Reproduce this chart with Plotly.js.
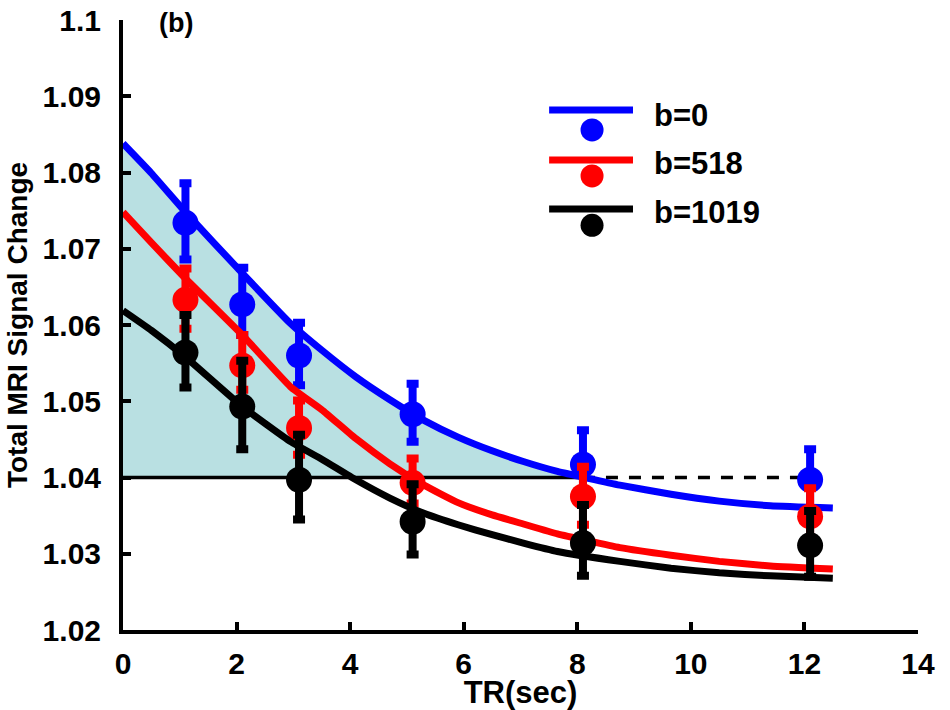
<!DOCTYPE html>
<html>
<head>
<meta charset="utf-8">
<script src="https://cdn.plot.ly/plotly-3.0.1.min.js"></script>
<style>
  html, body { margin: 0; padding: 0; background: #ffffff; }
  #chart { width: 950px; height: 710px; }
</style>
</head>
<body>
<div id="chart"></div>
<script>
// ---------- data ----------
const seriesNames = ["b=0", "b=518", "b=1019"];
const seriesColors = ["#0000ff", "#ff0000", "#000000"];

// measured points (TR in sec, slightly offset as in the figure)
const trPoints = [1.1, 2.1, 3.1, 5.1, 8.1, 12.1];

const b0Values     = [1.0734, 1.0627, 1.0560, 1.0483, 1.0417, 1.0397];
const b0ErrPlus    = [0.0052, 0.0048, 0.0043, 0.0040, 0.0045, 0.0040];
const b0ErrMinus   = [0.0048, 0.0040, 0.0039, 0.0036, 0.0045, 0.0040];

const b518Values   = [1.0633, 1.0547, 1.0465, 1.0393, 1.0375, 1.0349];
const b518ErrPlus  = [0.0041, 0.0040, 0.0036, 0.0032, 0.0039, 0.0037];
const b518ErrMinus = [0.0038, 0.0032, 0.0035, 0.0027, 0.0037, 0.0037];

const b1019Values   = [1.0564, 1.0493, 1.0397, 1.0342, 1.0314, 1.0311];
const b1019ErrPlus  = [0.0049, 0.0060, 0.0059, 0.0049, 0.0050, 0.0045];
const b1019ErrMinus = [0.0046, 0.0056, 0.0052, 0.0043, 0.0043, 0.0041];

// fitted curves
const curveTR    = [0, 0.5, 1.1, 2.1, 2.95, 3.5, 4.1, 4.7, 5.3, 5.9, 6.5, 7.05, 7.65, 8.75, 9.65, 10.5, 11.4, 12.5];
const b0Curve    = [1.0838, 1.0799, 1.0748, 1.0668, 1.0602, 1.0567, 1.0532, 1.0502, 1.0475, 1.0453, 1.0435, 1.0421, 1.0408, 1.0390, 1.0378, 1.0369, 1.0363, 1.0360];
const b518Curve  = [1.0748, 1.0708, 1.0661, 1.0587, 1.0519, 1.0489, 1.0451, 1.0418, 1.0390, 1.0367, 1.0351, 1.0339, 1.0326, 1.0308, 1.0298, 1.0290, 1.0284, 1.0280];
const b1019Curve = [1.0619, 1.0593, 1.0558, 1.0493, 1.0447, 1.0424, 1.0397, 1.0373, 1.0353, 1.0338, 1.0325, 1.0314, 1.0303, 1.0290, 1.0281, 1.0275, 1.0271, 1.0268];

// reference level line
const refLevel = 1.04;
const refSolidX = [0, 8.1];
const refDashX = [8.1, 12.1];

// axis ticks
const xTickVals = [0, 2, 4, 6, 8, 10, 12, 14];
const xTickText = ["0", "2", "4", "6", "8", "10", "12", "14"];
const yTickVals = [1.02, 1.03, 1.04, 1.05, 1.06, 1.07, 1.08, 1.09, 1.1];
const yTickText = ["1.02", "1.03", "1.04", "1.05", "1.06", "1.07", "1.08", "1.09", "1.1"];

const panelLabel = "(b)";
const xTitle = "TR(sec)";
const yTitle = "Total MRI Signal Change";

// ---------- build traces ----------
const FONT = "Liberation Sans, Arial, Helvetica, sans-serif";

// shaded area: b=0 curve above the reference level
const fillX = [], fillY = [];
for (let i = 0; i < curveTR.length; i++) {
  if (b0Curve[i] >= refLevel) {
    fillX.push(curveTR[i]); fillY.push(b0Curve[i]);
  } else {
    const x0 = curveTR[i - 1], y0 = b0Curve[i - 1], x1 = curveTR[i], y1 = b0Curve[i];
    fillX.push(x0 + (refLevel - y0) * (x1 - x0) / (y1 - y0));
    fillY.push(refLevel);
    break;
  }
}

const traces = [];
traces.push({
  x: [fillX[0], fillX[fillX.length - 1]], y: [refLevel, refLevel],
  mode: "lines", line: { width: 0, color: "rgba(0,0,0,0)" },
  showlegend: false, hoverinfo: "skip"
});
traces.push({
  x: fillX, y: fillY, mode: "lines", fill: "tonexty",
  fillcolor: "#b9e0e2", line: { width: 0, color: "rgba(0,0,0,0)" },
  showlegend: false, hoverinfo: "skip"
});
traces.push({
  x: refSolidX, y: refSolidX.map(() => refLevel), mode: "lines",
  line: { color: "#000000", width: 3.5 }, showlegend: false
});
traces.push({
  x: refDashX, y: refDashX.map(() => refLevel), mode: "lines",
  line: { color: "#000000", width: 3.5, dash: "12px,11px" }, showlegend: false
});

const curves = [b0Curve, b518Curve, b1019Curve];
const values = [b0Values, b518Values, b1019Values];
const errP = [b0ErrPlus, b518ErrPlus, b1019ErrPlus];
const errM = [b0ErrMinus, b518ErrMinus, b1019ErrMinus];

for (let s = 0; s < 3; s++) {
  traces.push({
    x: curveTR, y: curves[s], mode: "lines", name: seriesNames[s],
    line: { color: seriesColors[s], width: 7, shape: "spline", smoothing: 0.4 },
    showlegend: false
  });
  traces.push({
    x: trPoints, y: values[s], mode: "markers", name: seriesNames[s],
    marker: { color: seriesColors[s], size: 26, line: { width: 0 } },
    error_y: {
      type: "data", symmetric: false, array: errP[s], arrayminus: errM[s],
      color: seriesColors[s], thickness: 8, width: 6
    },
    showlegend: false
  });
}

// ---------- custom legend (line above, marker below) ----------
const legendRowsY = [0.8525, 0.7705, 0.6900];
const legendMarkerY = [0.8197, 0.7443, 0.6634];
const shapes = [];
const annotations = [];
const mw = 23 / 795 / 2, mh = 23 / 610 / 2;
for (let s = 0; s < 3; s++) {
  shapes.push({
    type: "line", xref: "paper", yref: "paper",
    x0: 0.536, x1: 0.6415, y0: legendRowsY[s], y1: legendRowsY[s],
    line: { color: seriesColors[s], width: 7 }
  });
  shapes.push({
    type: "circle", xref: "paper", yref: "paper",
    x0: 0.590 - mw, x1: 0.590 + mw, y0: legendMarkerY[s] - mh, y1: legendMarkerY[s] + mh,
    fillcolor: seriesColors[s], line: { width: 0 }
  });
  annotations.push({
    xref: "paper", yref: "paper", x: 0.665, y: (legendRowsY[s] + legendMarkerY[s]) / 2 + 0.008,
    xanchor: "left", yanchor: "middle", showarrow: false,
    text: "<b>" + seriesNames[s] + "</b>",
    font: { family: FONT, size: 31, color: "#000000" }
  });
}
annotations.push({
  xref: "paper", yref: "paper", x: 0.0667, y: 0.995,
  xanchor: "center", yanchor: "middle", showarrow: false,
  text: "<b>" + panelLabel + "</b>",
  font: { family: FONT, size: 27, color: "#000000" }
});

const layout = {
  width: 950, height: 710,
  margin: { l: 123, r: 32, t: 20, b: 80, pad: 0 },
  paper_bgcolor: "#ffffff", plot_bgcolor: "#ffffff",
  showlegend: false,
  font: { family: FONT, size: 30, color: "#000000", weight: "bold" },
  xaxis: {
    range: [0, 14], tickvals: xTickVals, ticktext: xTickText,
    showline: true, linewidth: 4, linecolor: "#000000",
    ticks: "inside", ticklen: 8, tickwidth: 4, tickcolor: "#000000",
    showgrid: false, zeroline: false, mirror: false,
    tickfont: { family: FONT, size: 30, color: "#000000", weight: "bold" },
    ticklabelstandoff: 4,
    title: { text: xTitle, standoff: 2, font: { family: FONT, size: 31, color: "#000000", weight: "bold" } }
  },
  yaxis: {
    range: [1.02, 1.1], tickvals: yTickVals, ticktext: yTickText,
    showline: true, linewidth: 4, linecolor: "#000000",
    ticks: "inside", ticklen: 8, tickwidth: 4, tickcolor: "#000000",
    showgrid: false, zeroline: false, mirror: false,
    tickfont: { family: FONT, size: 30, color: "#000000", weight: "bold" },
    ticklabelstandoff: 12,
    title: { text: yTitle, standoff: 8, font: { family: FONT, size: 28, color: "#000000", weight: "bold" } }
  },
  shapes: shapes,
  annotations: annotations
};

Plotly.newPlot("chart", traces, layout, { displayModeBar: false, staticPlot: true });
</script>
</body>
</html>
